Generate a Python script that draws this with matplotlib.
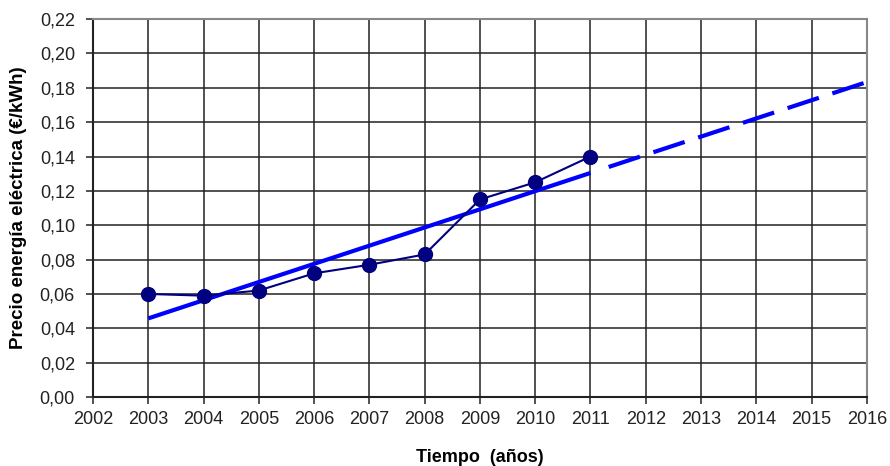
import numpy as np
import matplotlib
matplotlib.use("Agg")
import matplotlib.pyplot as plt
from matplotlib.ticker import FuncFormatter

# Datos del precio de la energía eléctrica
anios = [2003, 2004, 2005, 2006, 2007, 2008, 2009, 2010, 2011]
precios = [0.060, 0.059, 0.062, 0.072, 0.077, 0.083, 0.115, 0.125, 0.140]
anio_fin_tendencia = 2016

plt.rcParams['font.family'] = ['Liberation Sans', 'DejaVu Sans']

fig = plt.figure(figsize=(8.9, 4.66), dpi=100)
ax = fig.add_axes([0.1045, 0.148, 0.8695, 0.811])

# Recta de tendencia (mínimos cuadrados)
pend, orig = np.polyfit(anios, precios, 1)
x_solido = np.array([anios[0], anios[-1]])
x_discont = np.array([anios[-1], anio_fin_tendencia])
ax.plot(x_solido, pend * x_solido + orig, color="#0000ff", lw=3, solid_capstyle="butt", zorder=3)
linea_disc, = ax.plot(x_discont, pend * x_discont + orig, color="#0000ff", lw=3,
                      dash_capstyle="butt", zorder=3)
# el tramo discontinuo empieza con un hueco
linea_disc.set_dashes((0, 4.6, 7.9, 3.4) + (7.9, 3.4) * 10)

ax.plot(anios, precios, color="#000080", lw=1.5, marker="o", markersize=10,
        markerfacecolor="#000080", markeredgecolor="#000080", zorder=4)

ax.set_xlim(2002, 2016)
ax.set_ylim(0, 0.22)
ax.set_xticks(range(2002, 2017))
ax.set_yticks(np.arange(0, 0.2201, 0.02))
ax.yaxis.set_major_formatter(FuncFormatter(lambda v, p: f"{v:.2f}".replace(".", ",")))
ax.grid(True, color="#222222", lw=1.1)
ax.set_axisbelow(True)

for lado in ["left", "bottom"]:
    ax.spines[lado].set_color("#222222")
    ax.spines[lado].set_linewidth(1.5)
for lado in ["top", "right"]:
    ax.spines[lado].set_color("#888888")
    ax.spines[lado].set_linewidth(1.5)

ax.tick_params(direction="out", length=5, width=1.1, color="#222222",
               labelsize=13, labelcolor="#222222")
ax.tick_params(axis="x", pad=5)
ax.tick_params(axis="y", pad=8)

ax.set_xlabel("Tiempo  (años)", fontsize=13, fontweight="bold", labelpad=15)
ax.set_ylabel("Precio energía eléctrica (€/kWh)", fontsize=13.5, fontweight="bold", labelpad=9)

fig.savefig("out.png", dpi=100)
